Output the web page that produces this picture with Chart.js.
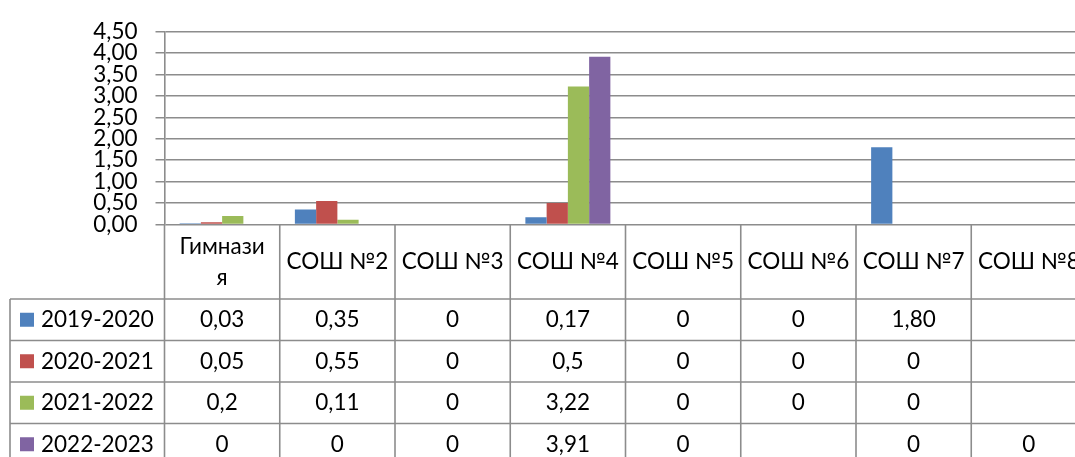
<!DOCTYPE html>
<html><head><meta charset="utf-8">
<script src="https://cdn.jsdelivr.net/npm/chart.js@4.4.1/dist/chart.umd.min.js"></script>
<style>
html,body{margin:0;padding:0;overflow:hidden;background:#fff;width:1075px;height:457px}
#wrap{position:absolute;left:0;top:0;width:1100px;height:457px}
</style></head>
<body><div id="wrap"><canvas id="c" width="1100" height="457"></canvas></div>
<script>
const categories = [["Гимнази","я"],"СОШ №2","СОШ №3","СОШ №4","СОШ №5","СОШ №6","СОШ №7","СОШ №8"];
const seriesNames = ["2019-2020","2020-2021","2021-2022","2022-2023"];
const s2019 = ["0.03","0.35","0","0.17","0","0","1.80",null];
const s2020 = ["0.05","0.55","0","0.5","0","0","0",null];
const s2021 = ["0.2","0.11","0","3.22","0","0","0",null];
const s2022 = ["0","0","0","3.91","0",null,"0","0"];
const yTicks = [0,0.5,1,1.5,2,2.5,3,3.5,4,4.5];
const colors = ["#4F81BD","#C0504D","#9BBB59","#8064A2"];
const allSeries = [s2019,s2020,s2021,s2022];

const FONT_SIZE = 22.5;
const FONT = FONT_SIZE + "px Lato";
const LINE = "#8c8c8c";

function fmt(v){ return v === null ? "" : String(v).replace('.', ','); }

const tablePlugin = {
  id: 'dataTable',
  afterDraw(chart){
    const ctx = chart.ctx, ca = chart.chartArea;
    const n = categories.length;
    const w = (ca.right - ca.left) / n;
    const headTop = ca.bottom;
    const rowTop = 299;
    const rowH = 41.5;
    const bottom = rowTop + rowH * allSeries.length;
    const tableLeft = 10;
    ctx.save();
    ctx.strokeStyle = LINE;
    ctx.lineWidth = 1.6;
    for (let i = 0; i <= n; i++) {
      const xx = ca.left + i * w;
      ctx.beginPath(); ctx.moveTo(xx, headTop); ctx.lineTo(xx, bottom); ctx.stroke();
    }
    ctx.beginPath(); ctx.moveTo(tableLeft, rowTop); ctx.lineTo(tableLeft, bottom); ctx.stroke();
    for (let r = 0; r <= allSeries.length; r++) {
      const yy = rowTop + r * rowH;
      ctx.beginPath(); ctx.moveTo(tableLeft, yy); ctx.lineTo(ca.right + 20, yy); ctx.stroke();
    }
    ctx.fillStyle = "#000";
    ctx.font = FONT;
    ctx.textAlign = "center";
    ctx.textBaseline = "middle";
    const hc = (headTop + rowTop) / 2;
    categories.forEach((c, i) => {
      const cx = chart.scales.x.getPixelForValue(i);
      const lines = Array.isArray(c) ? c : [c];
      const lh = 31;
      lines.forEach((t, k) => {
        ctx.fillText(t, cx, hc + (k - (lines.length - 1) / 2) * lh);
      });
    });
    allSeries.forEach((s, r) => {
      const cy = rowTop + r * rowH + rowH / 2;
      ctx.fillStyle = colors[r];
      ctx.fillRect(20, cy - 7, 14, 14);
      ctx.fillStyle = "#000";
      ctx.textAlign = "left";
      ctx.fillText(seriesNames[r], 41, cy);
      ctx.textAlign = "center";
      s.forEach((v, i) => {
        const cx = chart.scales.x.getPixelForValue(i);
        ctx.fillText(fmt(v), cx, cy);
      });
    });
    ctx.restore();
  }
};

new Chart(document.getElementById('c'), {
  type: 'bar',
  data: {
    labels: categories,
    datasets: allSeries.map((s, i) => ({
      label: seriesNames[i],
      data: s,
      backgroundColor: colors[i],
      borderWidth: 0,
      categoryPercentage: 0.7375,
      barPercentage: 1
    }))
  },
  options: {
    responsive: false,
    animation: false,
    devicePixelRatio: 1,
    layout: { padding: { top: 25, bottom: 232.5, left: 0, right: 13.5 } },
    plugins: { legend: { display: false }, tooltip: { enabled: false } },
    scales: {
      x: { display: false },
      y: {
        min: 0, max: 4.5,
        afterFit(scale){ scale.width = 164.5; },
        afterBuildTicks(scale){ scale.ticks = yTicks.map(v => ({ value: v })); },
        ticks: {
          autoSkip: false,
          font: { family: "Lato", size: FONT_SIZE },
          color: "#000",
          padding: 18,
          callback: v => Number(v).toFixed(2).replace('.', ',')
        },
        grid: { color: LINE, lineWidth: 1.5, tickLength: 9 },
        border: { display: true, color: LINE, width: 1.6 }
      }
    }
  },
  plugins: [tablePlugin]
});
</script>
</body></html>
